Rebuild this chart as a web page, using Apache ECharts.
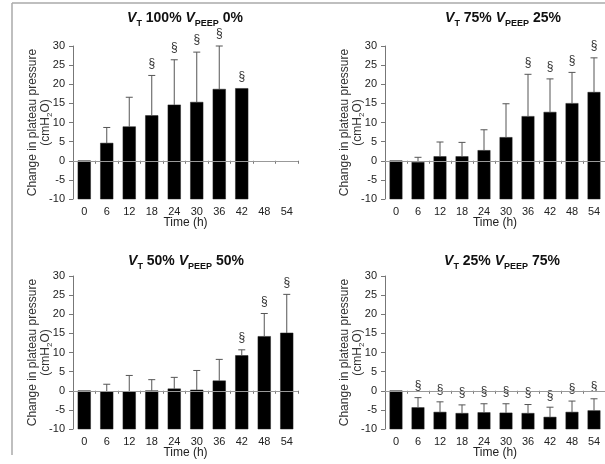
<!DOCTYPE html>
<html>
<head>
<meta charset="utf-8">
<script src="https://cdn.jsdelivr.net/npm/echarts@6/dist/echarts.min.js"></script>
<style>
html,body{margin:0;padding:0;background:#fff;}
#chart{width:605px;height:464px;}
</style>
</head>
<body>
<div id="chart"></div>
<script>
// Time points (h)
var timeLabels = ['0', '6', '12', '18', '24', '30', '36', '42', '48', '54'];
var yTicks = { min: -10, max: 30, step: 5 };

// Mean change in plateau pressure (cmH2O) and SD per protocol
var vt100Mean = [0, 4.6, 8.9, 11.8, 14.6, 15.3, 18.7, 18.9, null, null];
var vt100Sd   = [0, 4.1, 7.7, 10.5, 11.8, 13.1, 11.3, 0, null, null];
var vt100Sig  = [0, 0, 0, 1, 1, 1, 1, 1, 0, 0];

var vt75Mean = [0, -0.4, 1.1, 1.1, 2.7, 6.1, 11.6, 12.7, 15.0, 17.9];
var vt75Sd   = [0, 1.3, 3.8, 3.7, 5.4, 8.8, 11.0, 8.7, 8.1, 9.0];
var vt75Sig  = [0, 0, 0, 0, 0, 0, 1, 1, 1, 1];

var vt50Mean = [0, -0.2, -0.2, 0.0, 0.5, 0.2, 2.6, 9.2, 14.2, 15.1];
var vt50Sd   = [0, 1.9, 4.2, 2.9, 3.0, 5.1, 5.6, 1.5, 6.0, 10.1];
var vt50Sig  = [0, 0, 0, 0, 0, 0, 0, 1, 1, 1];

var vt25Mean = [0, -4.4, -5.6, -5.9, -5.7, -5.8, -5.9, -6.9, -5.6, -5.2];
var vt25Sd   = [0, 2.6, 2.7, 2.2, 2.3, 2.4, 2.3, 2.6, 2.9, 3.1];
var vt25Sig  = [0, 1, 1, 1, 1, 1, 1, 1, 1, 1];

var panelTitles = [
  ['T', '100%', 'PEEP', '0%'],
  ['T', '75%', 'PEEP', '25%'],
  ['T', '50%', 'PEEP', '50%'],
  ['T', '25%', 'PEEP', '75%']
];

var FONT = 'Arial, "Liberation Sans", Helvetica, sans-serif';
var panels = [
  { mean: vt100Mean, sd: vt100Sd, sig: vt100Sig },
  { mean: vt75Mean, sd: vt75Sd, sig: vt75Sig },
  { mean: vt50Mean, sd: vt50Sd, sig: vt50Sig },
  { mean: vt25Mean, sd: vt25Sd, sig: vt25Sig }
];

var grids = [
  { left: 73, top: 46, width: 225, height: 153 },
  { left: 385, top: 46, width: 221, height: 153 },
  { left: 73, top: 276, width: 225, height: 153 },
  { left: 385, top: 276, width: 221, height: 153 }
];
var titlePos = [[185, 19], [503, 19], [186, 262], [502, 262]];

var xAxes = [], yAxes = [], series = [], graphics = [];

panels.forEach(function (p, i) {
  xAxes.push({
    type: 'category', gridIndex: i, data: timeLabels,
    name: 'Time (h)', nameLocation: 'middle', nameGap: 18, nameMoveOverlap: false,
    nameTextStyle: { fontFamily: FONT, fontSize: 12, color: '#222' },
    axisLine: { lineStyle: { color: '#777', width: 1 } },
    axisTick: { show: true, length: 3, lineStyle: { color: '#777' } },
    axisLabel: { margin: 7, fontFamily: FONT, fontSize: 11, color: '#222' },
    splitLine: { show: false }
  });
  yAxes.push({
    type: 'value', gridIndex: i, min: yTicks.min, max: yTicks.max, interval: yTicks.step,
    name: '{a|Change in plateau pressure}\n{a|(cmH}{b|2}{a|O)}',
    nameLocation: 'middle', nameGap: 19, nameRotate: 90, nameMoveOverlap: false,
    nameTextStyle: {
      color: '#333',
      rich: {
        a: { fontFamily: FONT, fontSize: 12, color: '#333', lineHeight: 13, verticalAlign: 'bottom', padding: [0, 0, 2, 0] },
        b: { fontFamily: FONT, fontSize: 8, color: '#333', lineHeight: 13, verticalAlign: 'bottom' }
      }
    },
    axisLine: { show: true, lineStyle: { color: '#777', width: 1 } },
    axisTick: { show: true, length: 4, lineStyle: { color: '#777' } },
    axisLabel: { margin: 8, fontFamily: FONT, fontSize: 11, color: '#222' },
    splitLine: { show: false }
  });

  var rows = [];
  p.mean.forEach(function (m, k) {
    if (m === null) return;
    rows.push([k, m, p.sd[k] || 0, p.sig[k]]);
  });

  // bars rise from the bottom of the value axis, as in the spreadsheet layout
  series.push({
    type: 'custom', xAxisIndex: i, yAxisIndex: i, data: rows,
    encode: { x: 0, y: 1 },
    z: 2,
    renderItem: function (params, api) {
      var k = api.value(0), m = api.value(1);
      var top = api.coord([k, m]);
      var bottom = api.coord([k, yTicks.min]);
      var w = api.size([1, 0])[0] * 0.56;
      return {
        type: 'rect',
        shape: { x: top[0] - w / 2, y: top[1], width: w, height: bottom[1] - top[1] },
        style: { fill: '#000', stroke: '#222', lineWidth: 0.5 }
      };
    },
    markLine: {
      silent: true, symbol: 'none', label: { show: false },
      lineStyle: { color: '#999', width: 1, type: 'solid' },
      data: [{ yAxis: 0 }], animation: false
    },
    animation: false
  });

  // SD whiskers (upper side) and significance marks
  series.push({
    type: 'custom', xAxisIndex: i, yAxisIndex: i, data: rows,
    encode: { x: 0, y: 1 },
    z: 3,
    renderItem: function (params, api) {
      var k = api.value(0), m = api.value(1), s = api.value(2), sig = api.value(3);
      var base = api.coord([k, m]);
      var top = api.coord([k, m + s]);
      var children = [];
      if (s > 0) {
        children.push({ type: 'line', shape: { x1: base[0], y1: base[1], x2: top[0], y2: top[1] },
          style: { stroke: '#555', lineWidth: 1 } });
        children.push({ type: 'line', shape: { x1: top[0] - 3.5, y1: top[1], x2: top[0] + 3.5, y2: top[1] },
          style: { stroke: '#555', lineWidth: 1 } });
      }
      if (sig) {
        children.push({ type: 'text', style: { text: '§', x: top[0], y: top[1] - 12,
          align: 'center', verticalAlign: 'middle', fontFamily: FONT, fontSize: 12, fill: '#333' } });
      }
      return { type: 'group', children: children };
    },
    animation: false
  });

  var t = panelTitles[i];
  graphics.push({
    type: 'text', x: titlePos[i][0], y: titlePos[i][1],
    style: {
      text: '{v|V}{s|' + t[0] + '}{n| ' + t[1] + ' }{v|V}{s|' + t[2] + '}{n| ' + t[3] + '}',
      align: 'center', verticalAlign: 'middle',
      rich: {
        v: { fontFamily: FONT, fontSize: 14, fontWeight: 'bold', fontStyle: 'italic', fill: '#111', verticalAlign: 'bottom', padding: [0, 0, 3, 0], lineHeight: 18 },
        n: { fontFamily: FONT, fontSize: 14, fontWeight: 'bold', fill: '#111', verticalAlign: 'bottom', padding: [0, 0, 3, 0], lineHeight: 18 },
        s: { fontFamily: FONT, fontSize: 9, fontWeight: 'bold', fill: '#111', verticalAlign: 'bottom', lineHeight: 18 }
      }
    }
  });
});

// outer frame (top and left edges)
graphics.push({ type: 'line', shape: { x1: 12, y1: 3, x2: 605, y2: 3 }, style: { stroke: '#aaa', lineWidth: 1.5 } });
graphics.push({ type: 'line', shape: { x1: 12, y1: 3, x2: 12, y2: 455 }, style: { stroke: '#aaa', lineWidth: 1.5 } });

var chart = echarts.init(document.getElementById('chart'), null, { renderer: 'canvas' });
chart.setOption({
  backgroundColor: '#fff',
  animation: false,
  grid: grids,
  xAxis: xAxes,
  yAxis: yAxes,
  series: series,
  graphic: graphics
});
</script>
</body>
</html>
